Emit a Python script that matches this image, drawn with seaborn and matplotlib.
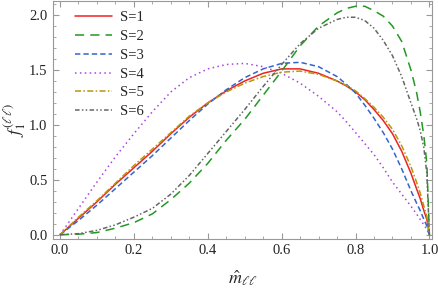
import matplotlib
matplotlib.use('Agg')
import matplotlib.pyplot as plt
from matplotlib.ticker import MultipleLocator
import seaborn as sns

# 데이터
m_hat = [0, .05, .1, .15, .2, .25, .3, .35, .4, .45, .5, .55, .6, .65, .7, .75, .775, .8,
         .825, .85, .875, .9, .925, .95, .965, .975, .985, .993, 1.0]

s1 = [0, .15, .30, .46, .61, .76, .92, 1.07, 1.20, 1.31, 1.40, 1.47, 1.51, 1.51, 1.47, 1.40,
      1.355, 1.30, 1.23, 1.14, 1.04, .92, .76, .56, .42, .33, .22, .14, 0]
s2 = [0, .005, .02, .06, .11, .19, .32, .47, .65, .86, 1.05, 1.27, 1.49, 1.72, 1.90, 2.02,
      2.06, 2.08, 2.08, 2.04, 1.99, 1.90, 1.76, 1.50, 1.30, 1.12, .90, .65, 0]
s3 = [0, .13, .27, .42, .57, .72, .88, 1.04, 1.19, 1.32, 1.43, 1.51, 1.56, 1.57, 1.53, 1.44,
      1.37, 1.29, 1.18, 1.06, .93, .78, .60, .40, .29, .22, .14, .08, 0]
s4 = [0, .24, .48, .71, .92, 1.12, 1.30, 1.43, 1.51, 1.55, 1.56, 1.53, 1.47, 1.38, 1.26, 1.12,
      1.03, .93, .83, .73, .61, .48, .37, .26, .19, .14, .09, .05, 0]
s5 = [0, .16, .31, .47, .63, .78, .93, 1.08, 1.20, 1.30, 1.38, 1.44, 1.48, 1.49, 1.46, 1.40,
      1.36, 1.31, 1.24, 1.16, 1.07, .96, .81, .62, .48, .38, .26, .17, 0]
s6 = [0, .01, .04, .09, .16, .24, .37, .54, .74, .94, 1.14, 1.35, 1.55, 1.74, 1.88, 1.96,
      1.98, 1.98, 1.95, 1.88, 1.77, 1.63, 1.44, 1.20, 1.06, .95, .79, .56, 0]

labels = ['S=1', 'S=2', 'S=3', 'S=4', 'S=5', 'S=6']
series = [s1, s2, s3, s4, s5, s6]
colors = ['#ee2222', '#229922', '#3366cc', '#aa44dd', '#b8960c', '#666666']
styles = ['-', (0, (6, 4)), (0, (3.5, 2)), (0, (1, 2.2)), (0, (4, 1.5, 1, 1.5)),
          (0, (3, 1.5, 1, 1.5, 1, 1.5))]

sns.set_style('ticks')
plt.rcParams['font.family'] = ['Liberation Serif', 'DejaVu Serif']
plt.rcParams['mathtext.fontset'] = 'stix'

fig = plt.figure(figsize=(4.38, 2.89), dpi=100)
ax = fig.add_axes([53/438, 1 - 238.7/289, (432 - 53)/438, (238.7 - 1)/289])

for y, lab, c, ls in zip(series, labels, colors, styles):
    sns.lineplot(x=m_hat, y=y, ax=ax, color=c, label=lab, linestyle=ls, linewidth=1.1,
                 sort=False)

ax.set_xlim(-0.019, 1.007)
ax.set_ylim(-0.036, 2.128)
ax.xaxis.set_major_locator(MultipleLocator(0.2))
ax.xaxis.set_minor_locator(MultipleLocator(0.05))
ax.yaxis.set_major_locator(MultipleLocator(0.5))
ax.yaxis.set_minor_locator(MultipleLocator(0.1))
ax.tick_params(which='both', direction='in', top=True, right=True, color='#999999',
               labelsize=10.5, labelcolor='#222222', pad=4)
ax.tick_params(which='major', length=4, width=0.8)
ax.tick_params(which='minor', length=2, width=0.6)
for sp in ax.spines.values():
    sp.set_color('#999999')
    sp.set_linewidth(0.8)

ax.set_xlabel(r'$\hat{m}_{\ell\ell}$', fontsize=13, labelpad=8)
ax.set_ylabel(r'$f_1^{(\ell\ell)}$', fontsize=13, labelpad=1)

ax.legend(loc='upper left', frameon=False, fontsize=10.5, handlelength=2.6,
          labelspacing=0.38, handletextpad=0.5, borderaxespad=0.3, bbox_to_anchor=(0.03, 1.0))

fig.savefig('out.png', dpi=100)
